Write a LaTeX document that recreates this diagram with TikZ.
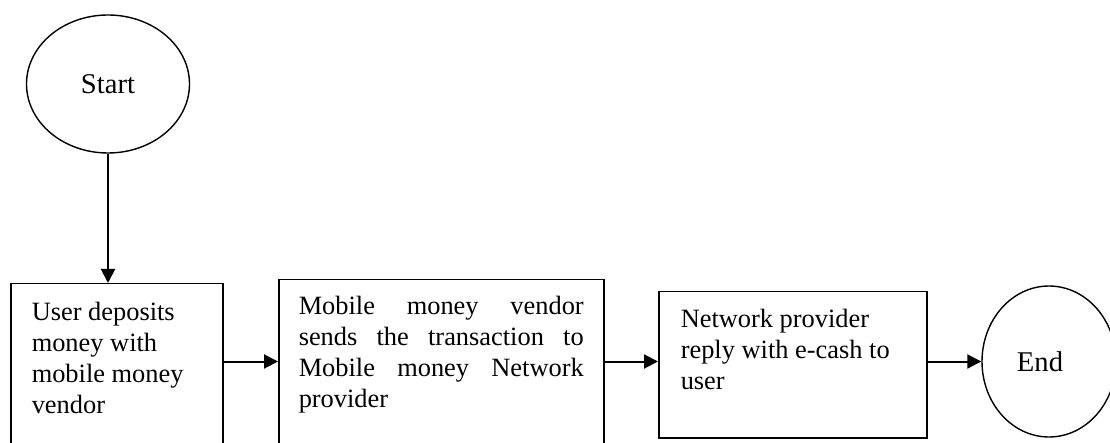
\documentclass[tikz,border=0pt]{standalone}
\usepackage{fontspec}
\setmainfont{Liberation Serif}
\usetikzlibrary{shapes.geometric,arrows.meta}
\tikzset{
  txt/.style={font=\fontsize{26.4}{31}\selectfont},
  stepbox/.style={txt, draw, line width=1.5pt, rectangle, anchor=north west},
  term/.style={font=\fontsize{28.6}{34}\selectfont, draw, line width=1.4pt, ellipse, inner sep=0pt},
  flow/.style={line width=2pt, -{Triangle[length=14pt,width=14pt]}}
}
\begin{document}
\begin{tikzpicture}[x=1pt,y=1pt]
\useasboundingbox (0,0) rectangle (1110,-443);
\clip (0,0) rectangle (1110,-443);
\fill[white] (0,0) rectangle (1110,-443);
\node[term, minimum width=163pt, minimum height=138pt] (start) at (108,-84) {Start};
\node[stepbox, inner xsep=21pt, inner ysep=15pt] (b1) at (10,-283)
  {\parbox[t][161pt][t]{170pt}{\raggedright\strut User deposits\\ money with\\ mobile money\\ vendor}};
\node[stepbox, inner xsep=20pt, inner ysep=13.5pt] (b2) at (278,-279)
  {\parbox[t][170pt][t]{285pt}{\strut\makebox[\linewidth][s]{Mobile money vendor}\\
   \makebox[\linewidth][s]{sends the transaction to}\\
   \makebox[\linewidth][s]{Mobile money Network}\\
   provider}};
\node[stepbox, inner xsep=22pt, inner ysep=14pt] (b3) at (658,-291)
  {\parbox[t][118pt][t]{224pt}{\raggedright\strut Network provider\\ reply with e-cash to\\ user}};
\node[term, minimum width=134pt, minimum height=151pt] (end) at (1049,-361.5) {\hspace*{-18pt}End};
\coordinate (ay) at (0,-361.5);
\draw[flow] (start.south) -- (start.south |- b1.north);
\draw[flow] (b1.east |- ay) -- (b2.west |- ay);
\draw[flow] (b2.east |- ay) -- (b3.west |- ay);
\draw[flow] (b3.east |- ay) -- (end.west);
\end{tikzpicture}
\end{document}
